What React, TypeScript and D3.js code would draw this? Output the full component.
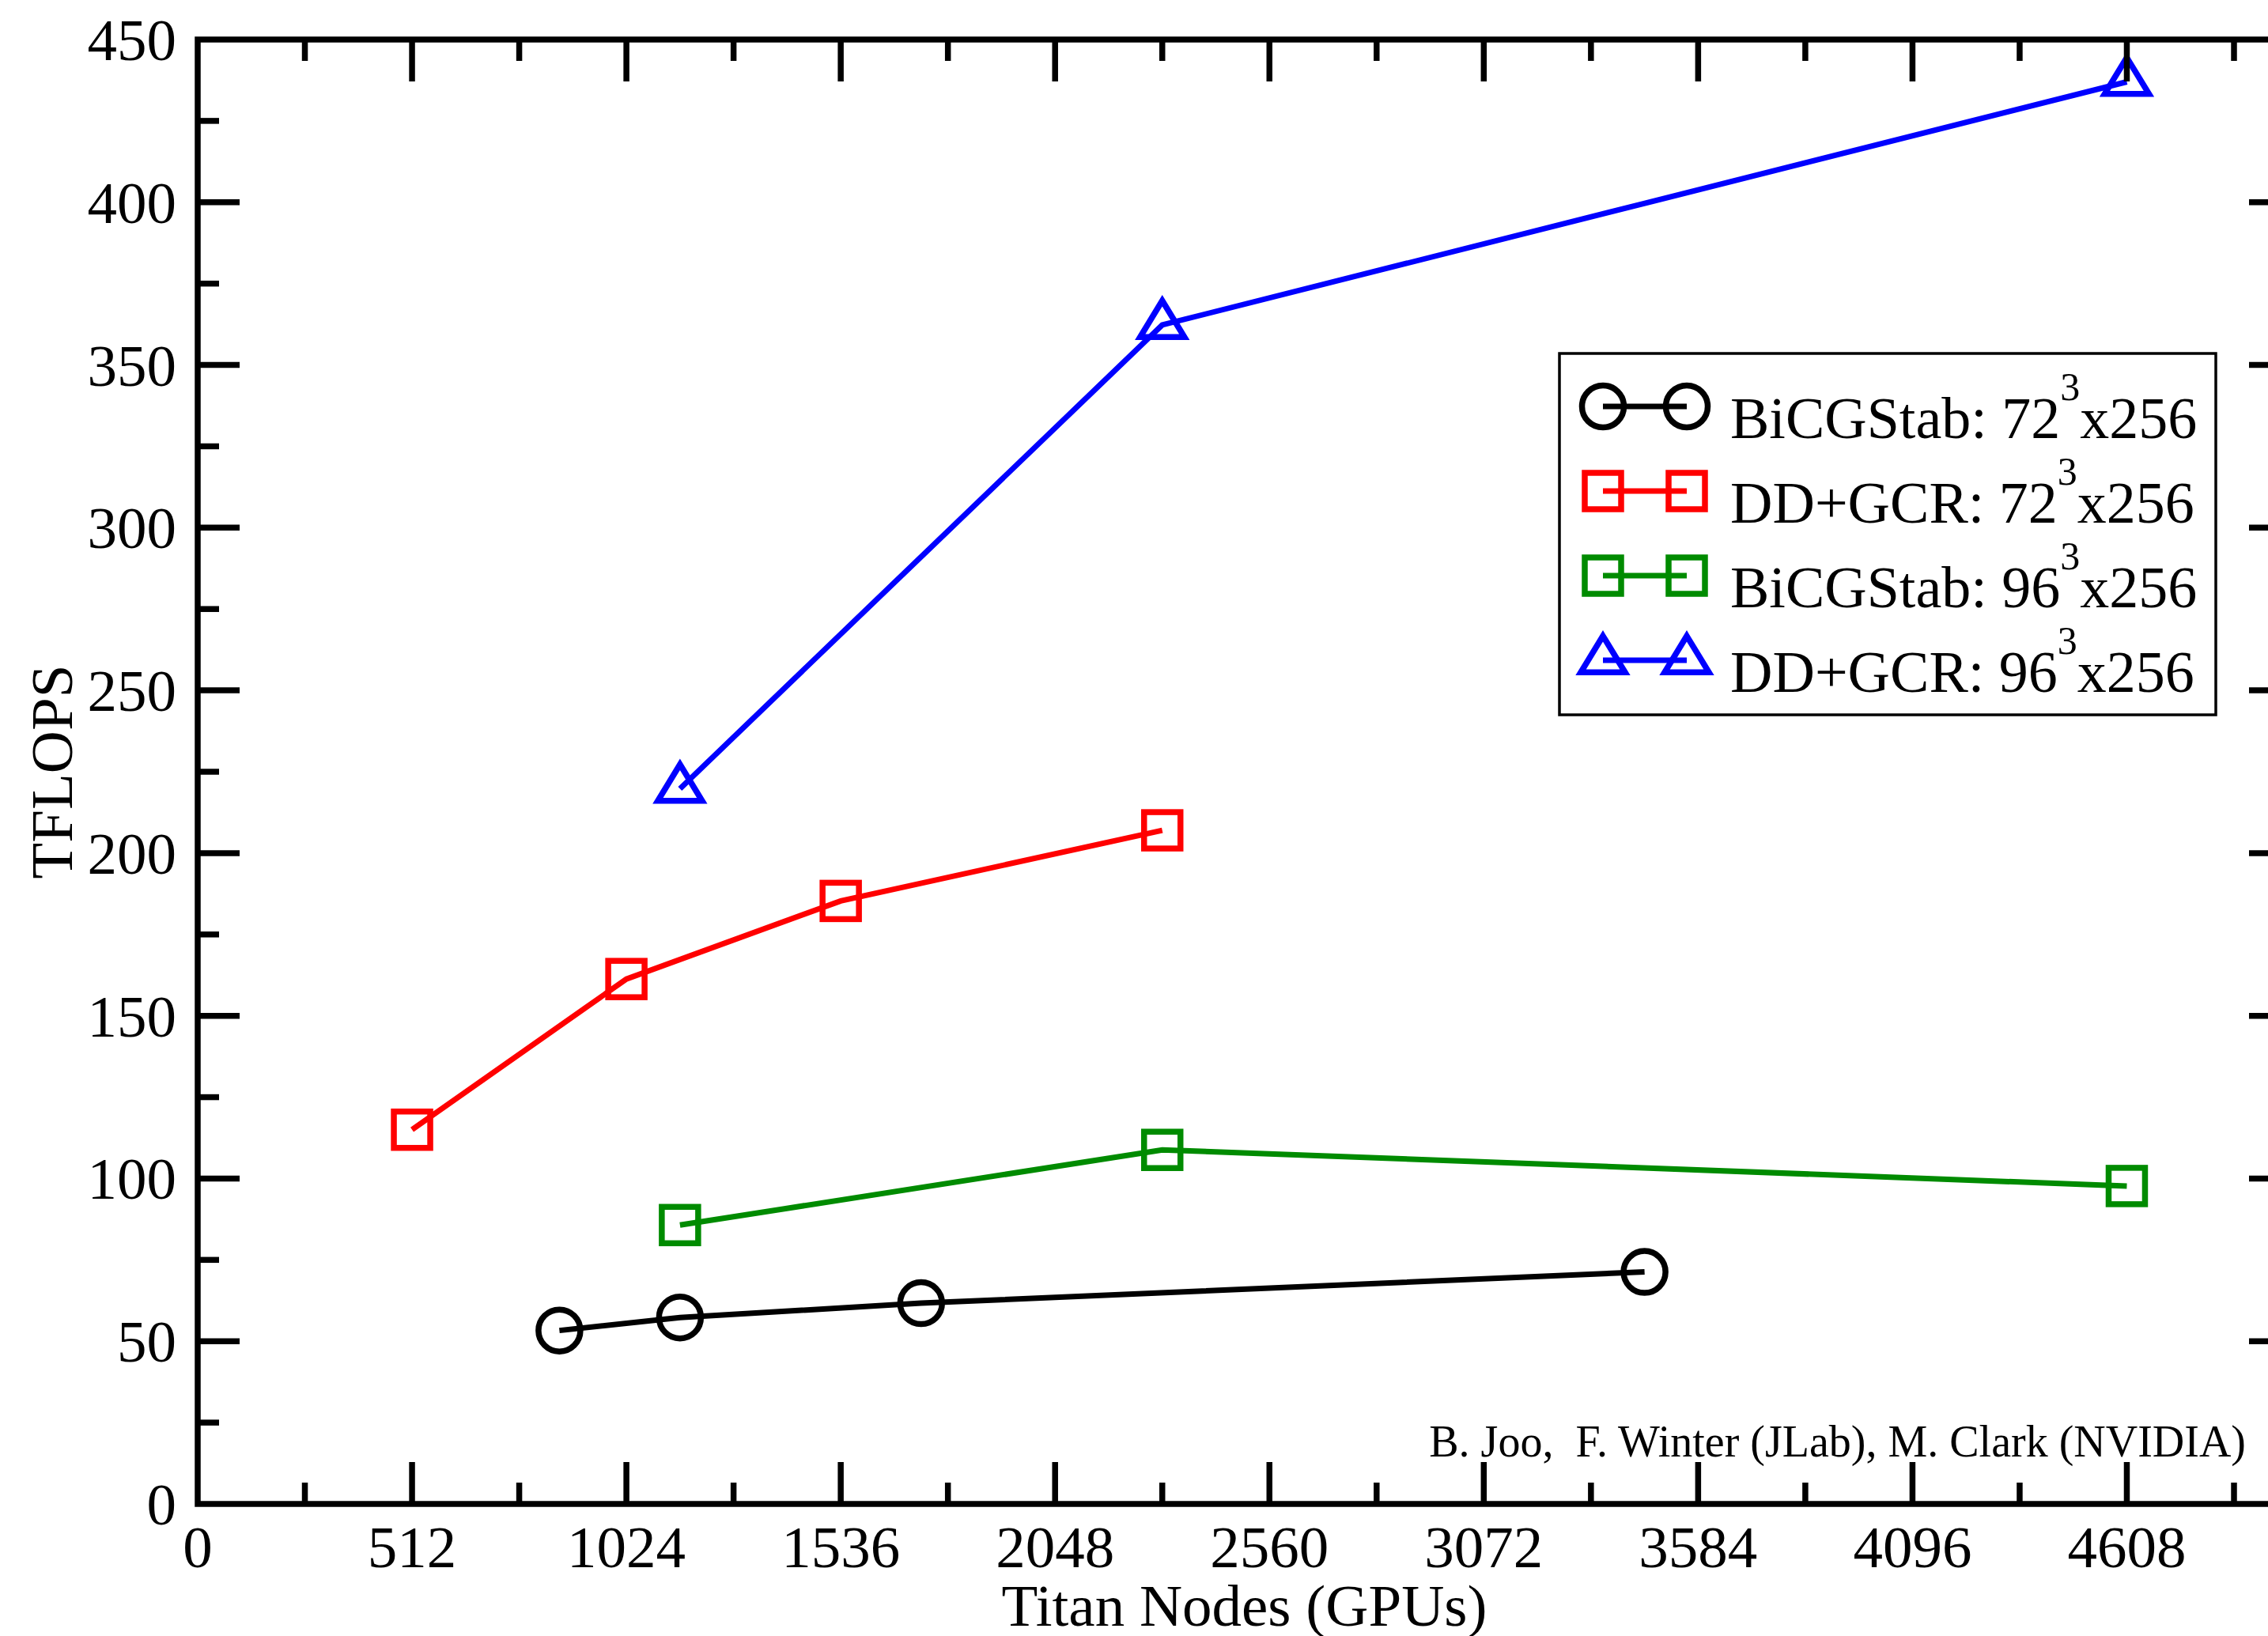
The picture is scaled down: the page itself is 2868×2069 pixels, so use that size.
import React, { useRef, useEffect } from 'react'
import * as d3 from 'd3'

// values
const bicg72Nodes = [864, 1152, 1728, 3456]
const bicg72Tflops = [53.3, 57.3, 61.7, 71.3]
const ddgcr72Nodes = [512, 1024, 1536, 2304]
const ddgcr72Tflops = [115, 161.3, 185.3, 207]
const bicg96Nodes = [1152, 2304, 4608]
const bicg96Tflops = [85.7, 108.8, 97.7]
const ddgcr96Nodes = [1152, 2304, 4608]
const ddgcr96Tflops = [219.8, 362.3, 437]

const seriesNames = ['BiCGStab: 72', 'DD+GCR: 72', 'BiCGStab: 96', 'DD+GCR: 96']
const seriesColors = ['#000000', '#ff0000', '#008b00', '#0000ff']
const seriesSymbols = ['circle', 'square', 'square', 'triangle']

const xMajorTicks = [0, 512, 1024, 1536, 2048, 2560, 3072, 3584, 4096, 4608]
const yMajorTicks = [0, 50, 100, 150, 200, 250, 300, 350, 400, 450]

const FONT = '"Liberation Serif", "DejaVu Serif", serif'

const App = () => {
  const svgRef = useRef<SVGSVGElement>(null)

  useEffect(() => {
    if (!svgRef.current) return
    const svg = d3.select(svgRef.current)
    svg.selectAll('*').remove()

    const width = 2868
    const height = 2069
    const left = 250, top = 50, right = 2897, bottom = 1902

    const x = d3.scaleLinear().domain([0, 5000]).range([left, right])
    const y = d3.scaleLinear().domain([0, 450]).range([bottom, top])

    svg.attr('width', width).attr('height', height)
    svg.append('rect').attr('width', width).attr('height', height).attr('fill', '#fff')

    const series = [
      bicg72Nodes.map((n, i) => ({ n, v: bicg72Tflops[i] })),
      ddgcr72Nodes.map((n, i) => ({ n, v: ddgcr72Tflops[i] })),
      bicg96Nodes.map((n, i) => ({ n, v: bicg96Tflops[i] })),
      ddgcr96Nodes.map((n, i) => ({ n, v: ddgcr96Tflops[i] })),
    ]

    const drawSymbol = (g: any, kind: string, cx: number, cy: number, color: string) => {
      if (kind === 'circle') {
        g.append('circle').attr('cx', cx).attr('cy', cy).attr('r', 26.5)
          .attr('fill', 'none').attr('stroke', color).attr('stroke-width', 7.5)
      } else if (kind === 'square') {
        g.append('rect').attr('x', cx - 23).attr('y', cy - 23).attr('width', 46).attr('height', 46)
          .attr('fill', 'none').attr('stroke', color).attr('stroke-width', 7.5)
      } else {
        const h = 46, w = 28
        g.append('path')
          .attr('d', `M${cx},${cy - (2 * h) / 3}L${cx + w},${cy + h / 3}L${cx - w},${cy + h / 3}Z`)
          .attr('fill', 'none').attr('stroke', color).attr('stroke-width', 7.5)
      }
    }

    // data lines + symbols
    const line = d3.line<{ n: number; v: number }>().x(d => x(d.n)).y(d => y(d.v))
    series.forEach((data, i) => {
      const g = svg.append('g')
      g.append('path').attr('d', line(data)).attr('fill', 'none')
        .attr('stroke', seriesColors[i]).attr('stroke-width', 7)
      data.forEach(d => drawSymbol(g, seriesSymbols[i], x(d.n), y(d.v), seriesColors[i]))
    })

    // frame
    const axes = svg.append('g').attr('stroke', '#000').attr('stroke-width', 7.5)
    axes.append('rect').attr('x', left).attr('y', top)
      .attr('width', right - left).attr('height', bottom - top)
      .attr('fill', 'none').attr('stroke-linejoin', 'miter')

    // x ticks (bottom and top, pointing inward)
    const xMinor = d3.range(256, 5000, 512)
    xMajorTicks.slice(1).forEach(t => {
      axes.append('line').attr('x1', x(t)).attr('x2', x(t)).attr('y1', bottom).attr('y2', bottom - 53)
      axes.append('line').attr('x1', x(t)).attr('x2', x(t)).attr('y1', top).attr('y2', top + 53)
    })
    xMinor.forEach(t => {
      axes.append('line').attr('x1', x(t)).attr('x2', x(t)).attr('y1', bottom).attr('y2', bottom - 27)
      axes.append('line').attr('x1', x(t)).attr('x2', x(t)).attr('y1', top).attr('y2', top + 27)
    })
    // y ticks (left and right)
    const yMinor = d3.range(25, 450, 50)
    yMajorTicks.slice(1, -1).forEach(t => {
      axes.append('line').attr('x1', left).attr('x2', left + 53).attr('y1', y(t)).attr('y2', y(t))
      axes.append('line').attr('x1', right).attr('x2', right - 53).attr('y1', y(t)).attr('y2', y(t))
    })
    yMinor.forEach(t => {
      axes.append('line').attr('x1', left).attr('x2', left + 27).attr('y1', y(t)).attr('y2', y(t))
      axes.append('line').attr('x1', right).attr('x2', right - 27).attr('y1', y(t)).attr('y2', y(t))
    })

    // tick labels
    const labels = svg.append('g').attr('font-family', FONT).attr('font-size', 75).attr('fill', '#000')
    xMajorTicks.forEach(t => {
      labels.append('text').attr('x', x(t)).attr('y', 1982).attr('text-anchor', 'middle').text(t)
    })
    yMajorTicks.forEach(t => {
      labels.append('text').attr('x', 223).attr('y', y(t) + 26).attr('text-anchor', 'end').text(t)
    })

    // axis titles
    labels.append('text').attr('x', (left + right) / 2).attr('y', 2056)
      .attr('text-anchor', 'middle').text('Titan Nodes (GPUs)')
    labels.append('text').attr('transform', `translate(91,${(top + bottom) / 2}) rotate(-90)`)
      .attr('text-anchor', 'middle').text('TFLOPS')

    // credit line
    svg.append('text').attr('x', 2840).attr('y', 1842).attr('text-anchor', 'end')
      .attr('font-family', FONT).attr('font-size', 56)
      .text('B. Joo,  F. Winter (JLab), M. Clark (NVIDIA)')
      .attr('style', 'white-space: pre')

    // legend
    const lg = svg.append('g')
    lg.append('rect').attr('x', 1972).attr('y', 447).attr('width', 830).attr('height', 457)
      .attr('fill', '#fff').attr('stroke', '#000').attr('stroke-width', 3.5)
    seriesNames.forEach((name, i) => {
      const cy = 514 + i * 107
      const row = lg.append('g')
      row.append('line').attr('x1', 2027).attr('x2', 2133).attr('y1', cy).attr('y2', cy)
        .attr('stroke', seriesColors[i]).attr('stroke-width', 7)
      drawSymbol(row, seriesSymbols[i], 2027, cy, seriesColors[i])
      drawSymbol(row, seriesSymbols[i], 2133, cy, seriesColors[i])
      const txt = row.append('text').attr('x', 2188).attr('y', cy + 40)
        .attr('font-family', FONT).attr('font-size', 74)
      txt.append('tspan').text(name)
      txt.append('tspan').attr('dy', -48).attr('font-size', 50).text('3')
      txt.append('tspan').attr('dy', 48).text('x256')
    })
  }, [])

  return (
    <svg ref={svgRef} style={{ position: 'absolute', left: 0, top: 0, display: 'block' }} />
  )
}

export default App
